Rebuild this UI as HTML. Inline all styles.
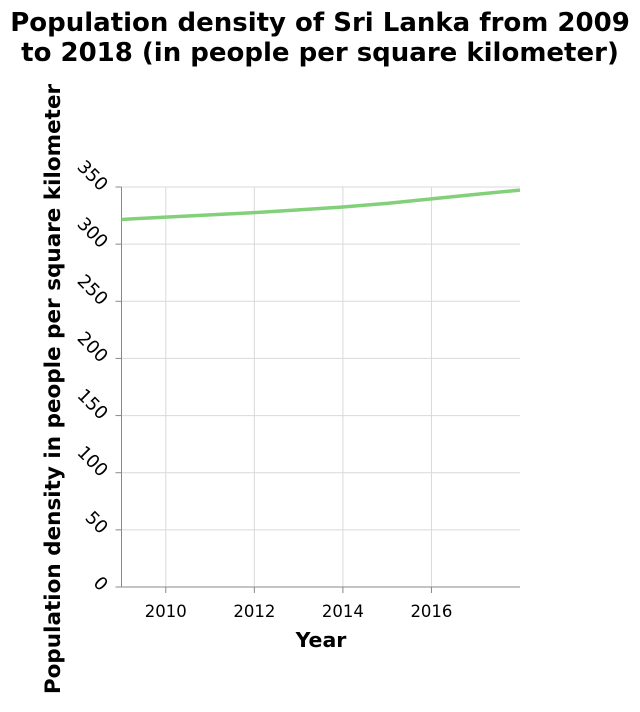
<!DOCTYPE html>
<html><head><meta charset="utf-8"><style>
body{margin:0;background:#fff;font-family:"DejaVu Sans","Liberation Sans",sans-serif}
</style></head><body>
<svg width="640" height="708" xmlns="http://www.w3.org/2000/svg" font-family="DejaVu Sans, Liberation Sans, sans-serif">
<text x="320" y="31" text-anchor="middle" font-size="26" font-weight="bold">Population density of Sri Lanka from 2009</text>
<text x="320" y="61" text-anchor="middle" font-size="26" font-weight="bold">to 2018 (in people per square kilometer)</text>
<g id="grid"></g>
<g id="axes"></g>
<text x="321" y="647" text-anchor="middle" font-size="20.5" font-weight="bold">Year</text>
<text transform="translate(60,389) rotate(-90)" text-anchor="middle" font-size="21.5" font-weight="bold">Population density in people per square kilometer</text>
<path id="line" fill="none" stroke="#82d17a" stroke-width="3.5"/>
</svg>
<script>
const years=[2009,2010,2011,2012,2013,2014,2015,2016,2017,2018];
const density=[321.6,323.6,325.6,327.6,330.0,332.5,335.7,339.6,343.5,347.3];
const xTicks=[2010,2012,2014,2016];
const yTicks=[0,50,100,150,200,250,300,350];
const X0=121.5,X1=520,Y0=587,Y1=187;
const x=v=>X0+(v-2009)/(2018-2009)*(X1-X0);
const y=v=>Y0-v/350*(Y0-Y1);
const NS="http://www.w3.org/2000/svg";
const grid=document.getElementById('grid'),axes=document.getElementById('axes');
function mk(tag,attrs,parent){const e=document.createElementNS(NS,tag);for(const k in attrs)e.setAttribute(k,attrs[k]);parent.appendChild(e);return e;}
xTicks.forEach(t=>{
 const l=mk('line',{x1:x(t),x2:x(t),y1:Y1,y2:Y0,stroke:'#d9d9d9'},grid);
 
 
 const tk=mk('line',{x1:x(t),x2:x(t),y1:Y0,y2:Y0+6,stroke:'#888'},axes);
 
 
 const tx=mk('text',{x:x(t),y:Y0+30,'text-anchor':'middle','font-size':16.5},axes);
 tx.textContent=t;
 
 
});
yTicks.forEach(t=>{
 if(t>0){const l=mk('line',{x1:X0,x2:X1,y1:y(t),y2:y(t),stroke:'#d9d9d9'},grid);
 
 }
 const tk=mk('line',{x1:X0-6,x2:X0,y1:y(t),y2:y(t),stroke:'#888'},axes);
 
 
 const tx=mk('text',{x:0,y:0,'text-anchor':'end','font-size':18,transform:`translate(${X0-21},${y(t)+5}) rotate(45)`},axes);
 tx.textContent=t;
 
 
});
const ax=mk('line',{x1:X0,x2:X1,y1:Y0,y2:Y0,stroke:'#888'},axes);


const ay=mk('line',{x1:X0,x2:X0,y1:Y1,y2:Y0,stroke:'#888'},axes);


document.getElementById('line').setAttribute('d',years.map((v,i)=>(i?'L':'M')+x(v)+','+y(density[i])).join(''));
</script>
</body></html>
